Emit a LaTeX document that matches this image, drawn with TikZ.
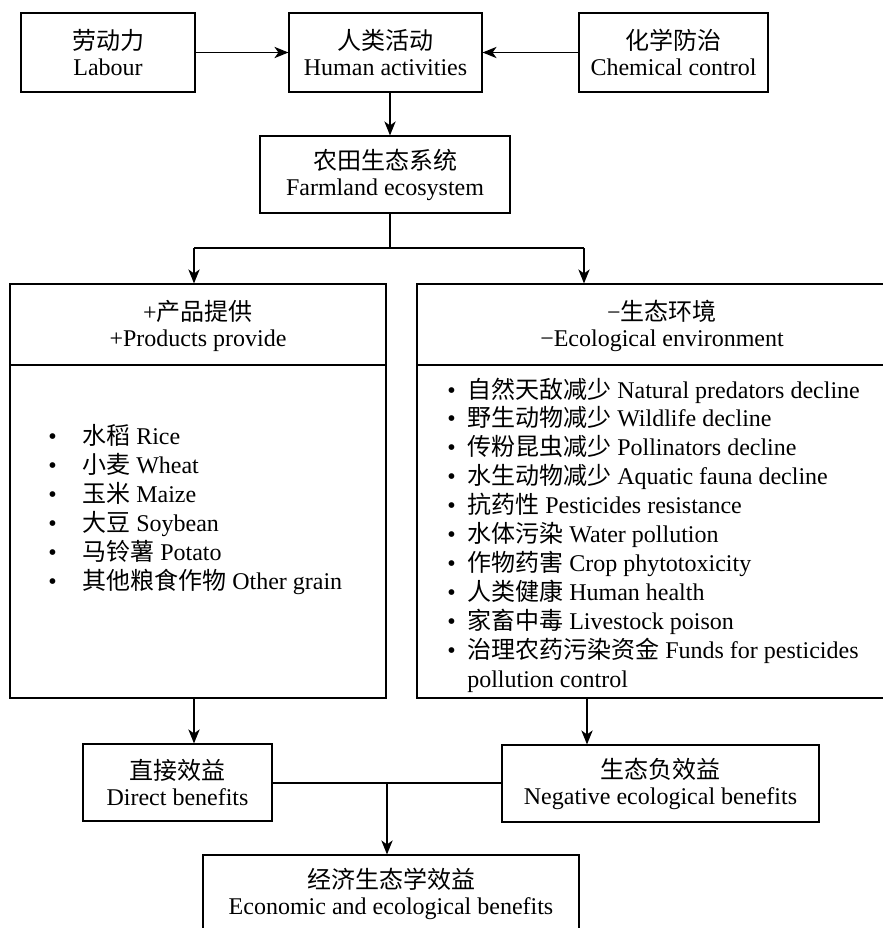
\documentclass[tikz,border=0pt]{standalone}
\usepackage{fontspec}
\setmainfont{Liberation Serif}
\newfontfamily\cjk{Noto Sans CJK SC}
\usetikzlibrary{arrows.meta}
\begin{document}
\begin{tikzpicture}[x=0.75pt,y=-0.75pt,
  every node/.style={font=\fontsize{18}{19.5}\selectfont, inner sep=0pt},
  box/.style={draw, line width=0.9pt, align=center},
  conn/.style={line width=0.9pt},
  arr/.style={conn, -{Stealth[length=10.5pt,width=8.5pt,inset=3pt]}},
  item/.style={anchor=base west, font=\fontsize{18}{21.75}\selectfont}]
\useasboundingbox (0,0) rectangle (882,928);

% top row
\node[box, minimum width=130.5pt, minimum height=59.25pt] (labour) at (108,52.5) {{\cjk 劳动力}\\Labour};
\node[box, minimum width=144.75pt, minimum height=59.25pt] (human) at (385.5,52.5) {{\cjk 人类活动}\\Human activities};
\node[box, minimum width=141.75pt, minimum height=59.25pt] (chem) at (673.5,52.5) {{\cjk 化学防治}\\Chemical control};
\node[box, minimum width=187.5pt, minimum height=57.75pt] (farm) at (385,174.5) {{\cjk 农田生态系统}\\Farmland ecosystem};

% big boxes
\node[box, minimum width=282pt, minimum height=310.5pt] (prod) at (198,491) {};
\node[box, minimum width=367.5pt, minimum height=310.5pt] (eco) at (662,491) {};
\coordinate (dv) at (0,365);
\draw[conn] (prod.west |- dv) -- (prod.east |- dv);
\draw[conn] (eco.west |- dv) -- (eco.east |- dv);
\node[align=center] (prodh) at (198,326) {+{\cjk 产品提供}\\+Products provide};
\node[align=center] (ecoh) at (662,326) {−{\cjk 生态环境}\\−Ecological environment};

% left list
\node[item] (p1) at (48,444) {\makebox[25.5pt][l]{•}{\cjk 水稻} Rice};
\node[item] (p2) at (48,473) {\makebox[25.5pt][l]{•}{\cjk 小麦} Wheat};
\node[item] (p3) at (48,502) {\makebox[25.5pt][l]{•}{\cjk 玉米} Maize};
\node[item] (p4) at (48,531) {\makebox[25.5pt][l]{•}{\cjk 大豆} Soybean};
\node[item] (p5) at (48,560) {\makebox[25.5pt][l]{•}{\cjk 马铃薯} Potato};
\node[item] (p6) at (48,589) {\makebox[25.5pt][l]{•}{\cjk 其他粮食作物} Other grain};

% right list
\node[item] (e1) at (447,398) {\makebox[15pt][l]{•}{\cjk 自然天敌减少} Natural predators decline};
\node[item] (e2) at (447,426.9) {\makebox[15pt][l]{•}{\cjk 野生动物减少} Wildlife decline};
\node[item] (e3) at (447,455.8) {\makebox[15pt][l]{•}{\cjk 传粉昆虫减少} Pollinators decline};
\node[item] (e4) at (447,484.7) {\makebox[15pt][l]{•}{\cjk 水生动物减少} Aquatic fauna decline};
\node[item] (e5) at (447,513.6) {\makebox[15pt][l]{•}{\cjk 抗药性} Pesticides resistance};
\node[item] (e6) at (447,542.5) {\makebox[15pt][l]{•}{\cjk 水体污染} Water pollution};
\node[item] (e7) at (447,571.4) {\makebox[15pt][l]{•}{\cjk 作物药害} Crop phytotoxicity};
\node[item] (e8) at (447,600.3) {\makebox[15pt][l]{•}{\cjk 人类健康} Human health};
\node[item] (e9) at (447,629.2) {\makebox[15pt][l]{•}{\cjk 家畜中毒} Livestock poison};
\node[item] (e10) at (447,658.1) {\makebox[15pt][l]{•}{\cjk 治理农药污染资金} Funds for pesticides};
\node[item] (e11) at (467,687) {pollution control};

% bottom boxes
\node[box, minimum width=141.75pt, minimum height=57.75pt] (direct) at (177.5,782.5) {{\cjk 直接效益}\\Direct benefits};
\node[box, minimum width=237.75pt, minimum height=57.75pt] (neg) at (660.5,783.5) {{\cjk 生态负效益}\\Negative ecological benefits};
\node[box, minimum width=282pt, minimum height=58.5pt] (econ) at (391,894) {{\cjk 经济生态学效益}\\Economic and ecological benefits};

% connectors
\draw[arr] (labour.east) -- (labour.east -| human.west);
\draw[arr] (chem.west) -- (chem.west -| human.east);
\coordinate (ax) at (390,0);
\draw[arr] (human.south -| ax) -- (farm.north -| ax);
\coordinate (bl) at (194,248);
\coordinate (bc) at (390,248);
\coordinate (br) at (584,248);
\draw[conn] (farm.south -| ax) -- (bc);
\draw[conn] (bl) -- (br);
\draw[arr] (bl) -- (bl |- prod.north);
\draw[arr] (br) -- (br |- eco.north);
\coordinate (dl) at (194,0);
\coordinate (dr) at (587,0);
\draw[arr] (prod.south -| dl) -- (direct.north -| dl);
\draw[arr] (eco.south -| dr) -- (neg.north -| dr);
\coordinate (jn) at (387,783);
\draw[conn] (direct.east |- jn) -- (neg.west |- jn);
\draw[arr] (jn) -- (jn |- econ.north);
\end{tikzpicture}
\end{document}
